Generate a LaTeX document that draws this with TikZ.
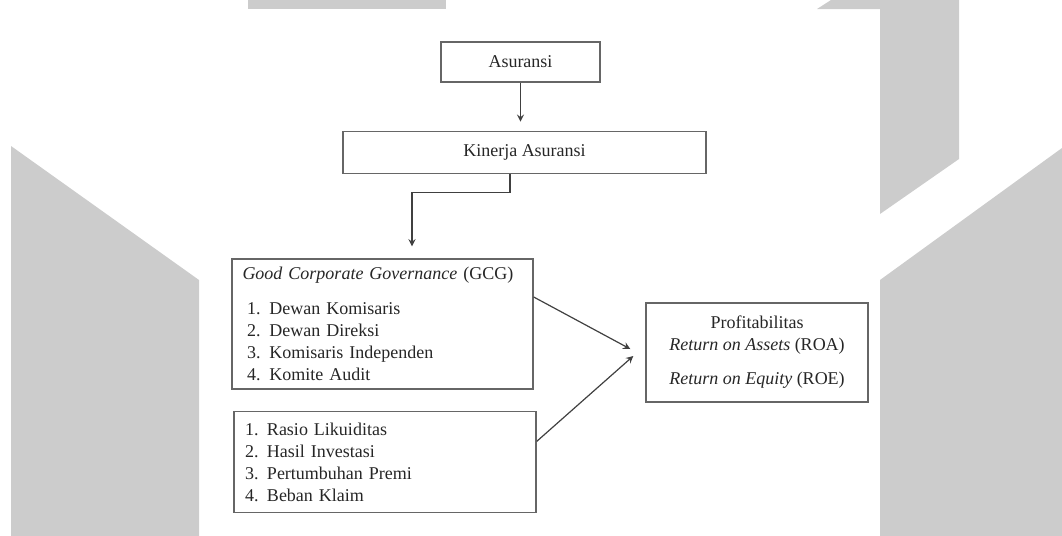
\documentclass[tikz,border=0pt]{standalone}
\usepackage{fontspec}
\setmainfont{Liberation Serif}
\usetikzlibrary{positioning, arrows}
\definecolor{shadegray}{RGB}{204,204,204}
\tikzset{
>=stealth, % pointed arrow heads
x=0.5pt, y=-0.5pt, % one unit is one pixel of the page, y runs downwards
box/.style={draw=black!60, line width=0.7pt, inner sep=0pt, text=black!85, font=\fontsize{9}{11}\selectfont}, % plain framed box
listbox/.style={box, align=left, inner xsep=5.25pt}, % framed box with a list in it
link/.style={->, draw=black!75, line width=0.6pt}, % connector between boxes
backdrop/.style={fill=shadegray, draw=none}, % light gray shapes behind the chart
}
\begin{document}
\begin{tikzpicture}
    \useasboundingbox (0,0) rectangle (1062,536);

    % backdrop
    \fill[backdrop] (248,0) rectangle (446,9);
    \fill[backdrop] (817,9) -- (831,0) -- (959,0) -- (959,159) -- (880,214) -- (880,9) -- cycle;
    \fill[backdrop] (11,146) -- (199,280) -- (199,536) -- (11,536) -- cycle;
    \fill[backdrop] (880,280) -- (1062,148) -- (1062,536) -- (880,536) -- cycle;

    % boxes
    \node[box, minimum width=79.5pt, minimum height=20pt] (asr) at (520.5,62) {Asuransi};
    \node[box, minimum width=181.5pt, minimum height=21pt, below=24pt of asr, xshift=2pt] (knj) {Kinerja Asuransi};
    \node[listbox, text width=140pt, minimum height=65pt] (gcg) at (382.5,324)
        {\textit{Good Corporate Governance} (GCG)\\[6.25pt]
         \hspace*{2.25pt}1. Dewan Komisaris\\
         \hspace*{2.25pt}2. Dewan Direksi\\
         \hspace*{2.25pt}3. Komisaris Independen\\
         \hspace*{2.25pt}4. Komite Audit};
    \node[listbox, inner xsep=5.5pt, text width=140pt, minimum height=50.5pt, below=10.5pt of gcg, xshift=1.25pt] (rasio)
        {\makebox[11pt][l]{1.}Rasio Likuiditas\\
         \makebox[11pt][l]{2.}Hasil Investasi\\
         \makebox[11pt][l]{3.}Pertumbuhan Premi\\
         \makebox[11pt][l]{4.}Beban Klaim};
    \node[box, align=center, minimum width=111pt, minimum height=49.5pt] (prof) at (757,352.5)
        {Profitabilitas\\
         \textit{Return on Assets} (ROA)\\[6pt]
         \textit{Return on Equity} (ROE)};

    % connectors
    \draw[link, shorten >=4.5pt] (asr.south) -- (asr.south |- knj.north);
    \draw[link, shorten >=6pt] ([xshift=-7.25pt]knj.south) -- ++(0,18) -| ([xshift=14.75pt]gcg.north);
    \draw[link] ([yshift=13.5pt]gcg.east) -- ([xshift=-7.5pt, yshift=1.75pt]prof.west);
    \draw[link] ([yshift=10.25pt]rasio.east) -- ([xshift=-6pt, yshift=-1.75pt]prof.west);
\end{tikzpicture}
\end{document}
